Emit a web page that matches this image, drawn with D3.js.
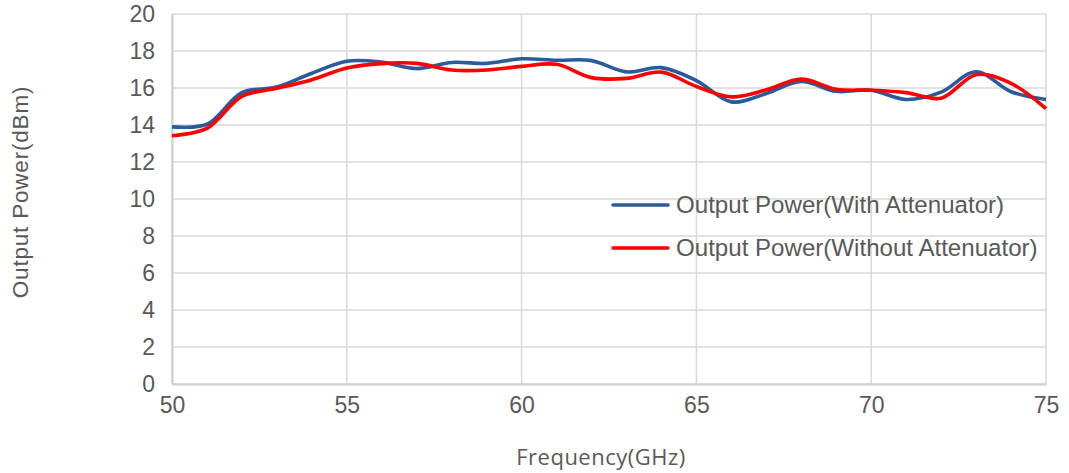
<!DOCTYPE html>
<html><head><meta charset="utf-8">
<script src="https://cdn.jsdelivr.net/npm/d3@7"></script>
<style>body{margin:0;background:#fff}svg{display:block}</style>
</head><body>
<svg id="c" width="1069" height="473"></svg>
<script>
const freq = [50,51,52,53,54,55,56,57,58,59,60,61,62,63,64,65,66,67,68,69,70,71,72,73,74,75];
const withAtt = [13.9,14.04,15.75,16.05,16.8,17.45,17.4,17.05,17.38,17.33,17.58,17.5,17.48,16.87,17.1,16.4,15.25,15.7,16.35,15.82,15.88,15.38,15.78,16.88,15.8,15.38];
const withoutAtt = [13.42,13.82,15.55,15.98,16.45,17.08,17.32,17.33,16.97,16.97,17.17,17.28,16.56,16.52,16.86,16.08,15.52,15.9,16.48,15.93,15.88,15.75,15.45,16.72,16.25,14.88];
const xTicks = [50,55,60,65,70,75];
const yTicks = [0,2,4,6,8,10,12,14,16,18,20];
const seriesNames = ["Output Power(With Attenuator)","Output Power(Without Attenuator)"];
const seriesColors = ["#2A5B9B","#FF0000"];

const svg = d3.select("#c");
const L=172,R=1046,T=14,B=384;
const x = d3.scaleLinear().domain([50,75]).range([L,R]);
const y = d3.scaleLinear().domain([0,20]).range([B,T]);
const grid = "#D9D9D9", txt = "#595959";

// gridlines
svg.append("g").selectAll("line").data(yTicks).join("line")
  .attr("x1",L).attr("x2",R).attr("y1",d=>y(d)).attr("y2",d=>y(d))
  .attr("stroke",grid).attr("stroke-width",1.5);
svg.append("g").selectAll("line").data(xTicks).join("line")
  .attr("x1",d=>x(d)).attr("x2",d=>x(d)).attr("y1",T).attr("y2",B)
  .attr("stroke",grid).attr("stroke-width",1.5);

// axes
const yAxis = svg.append("g").attr("transform",`translate(${L},0)`)
  .call(d3.axisLeft(y).tickValues(yTicks).tickSize(0).tickPadding(17));
const xAxis = svg.append("g").attr("transform",`translate(0,${B})`)
  .call(d3.axisBottom(x).tickValues(xTicks).tickSize(0).tickPadding(13));
[yAxis,xAxis].forEach(a=>{
  a.select(".domain").attr("stroke","#D0D0D0").attr("stroke-width",2);
  a.selectAll("text").attr("fill",txt).style("font-family","Liberation Sans, Arial, sans-serif").style("font-size","23px");
});

// lines
const line = d3.line().x((d,i)=>x(freq[i])).y(d=>y(d)).curve(d3.curveCatmullRom.alpha(0.5));
[withAtt,withoutAtt].forEach((s,k)=>{
  svg.append("path").datum(s).attr("d",line).attr("fill","none")
    .attr("stroke",seriesColors[k]).attr("stroke-width",3.6).attr("stroke-linejoin","round");
});

// legend
const lg = svg.append("g");
seriesNames.forEach((n,k)=>{
  const yy = 205 + k*43;
  lg.append("line").attr("x1",613).attr("x2",668).attr("y1",yy).attr("y2",yy)
    .attr("stroke",seriesColors[k]).attr("stroke-width",3.6).attr("stroke-linecap","round");
  lg.append("text").attr("x",676).attr("y",yy).attr("dy","0.35em").text(n)
    .attr("fill",txt).style("font-family","Liberation Sans, Arial, sans-serif").style("font-size","24.1px");
});

// axis titles
svg.append("text").attr("x",601).attr("y",465).attr("text-anchor","middle").text("Frequency(GHz)")
  .attr("fill",txt).style("font-family","Open Sans, sans-serif").style("font-size","22px").style("letter-spacing","0.5px");
svg.append("text").attr("transform","translate(28,192) rotate(-90)").attr("text-anchor","middle").text("Output Power(dBm)")
  .attr("fill",txt).style("font-family","Liberation Sans, Arial, sans-serif").style("font-size","22.5px").style("letter-spacing","0.8px");
</script>
</body></html>
